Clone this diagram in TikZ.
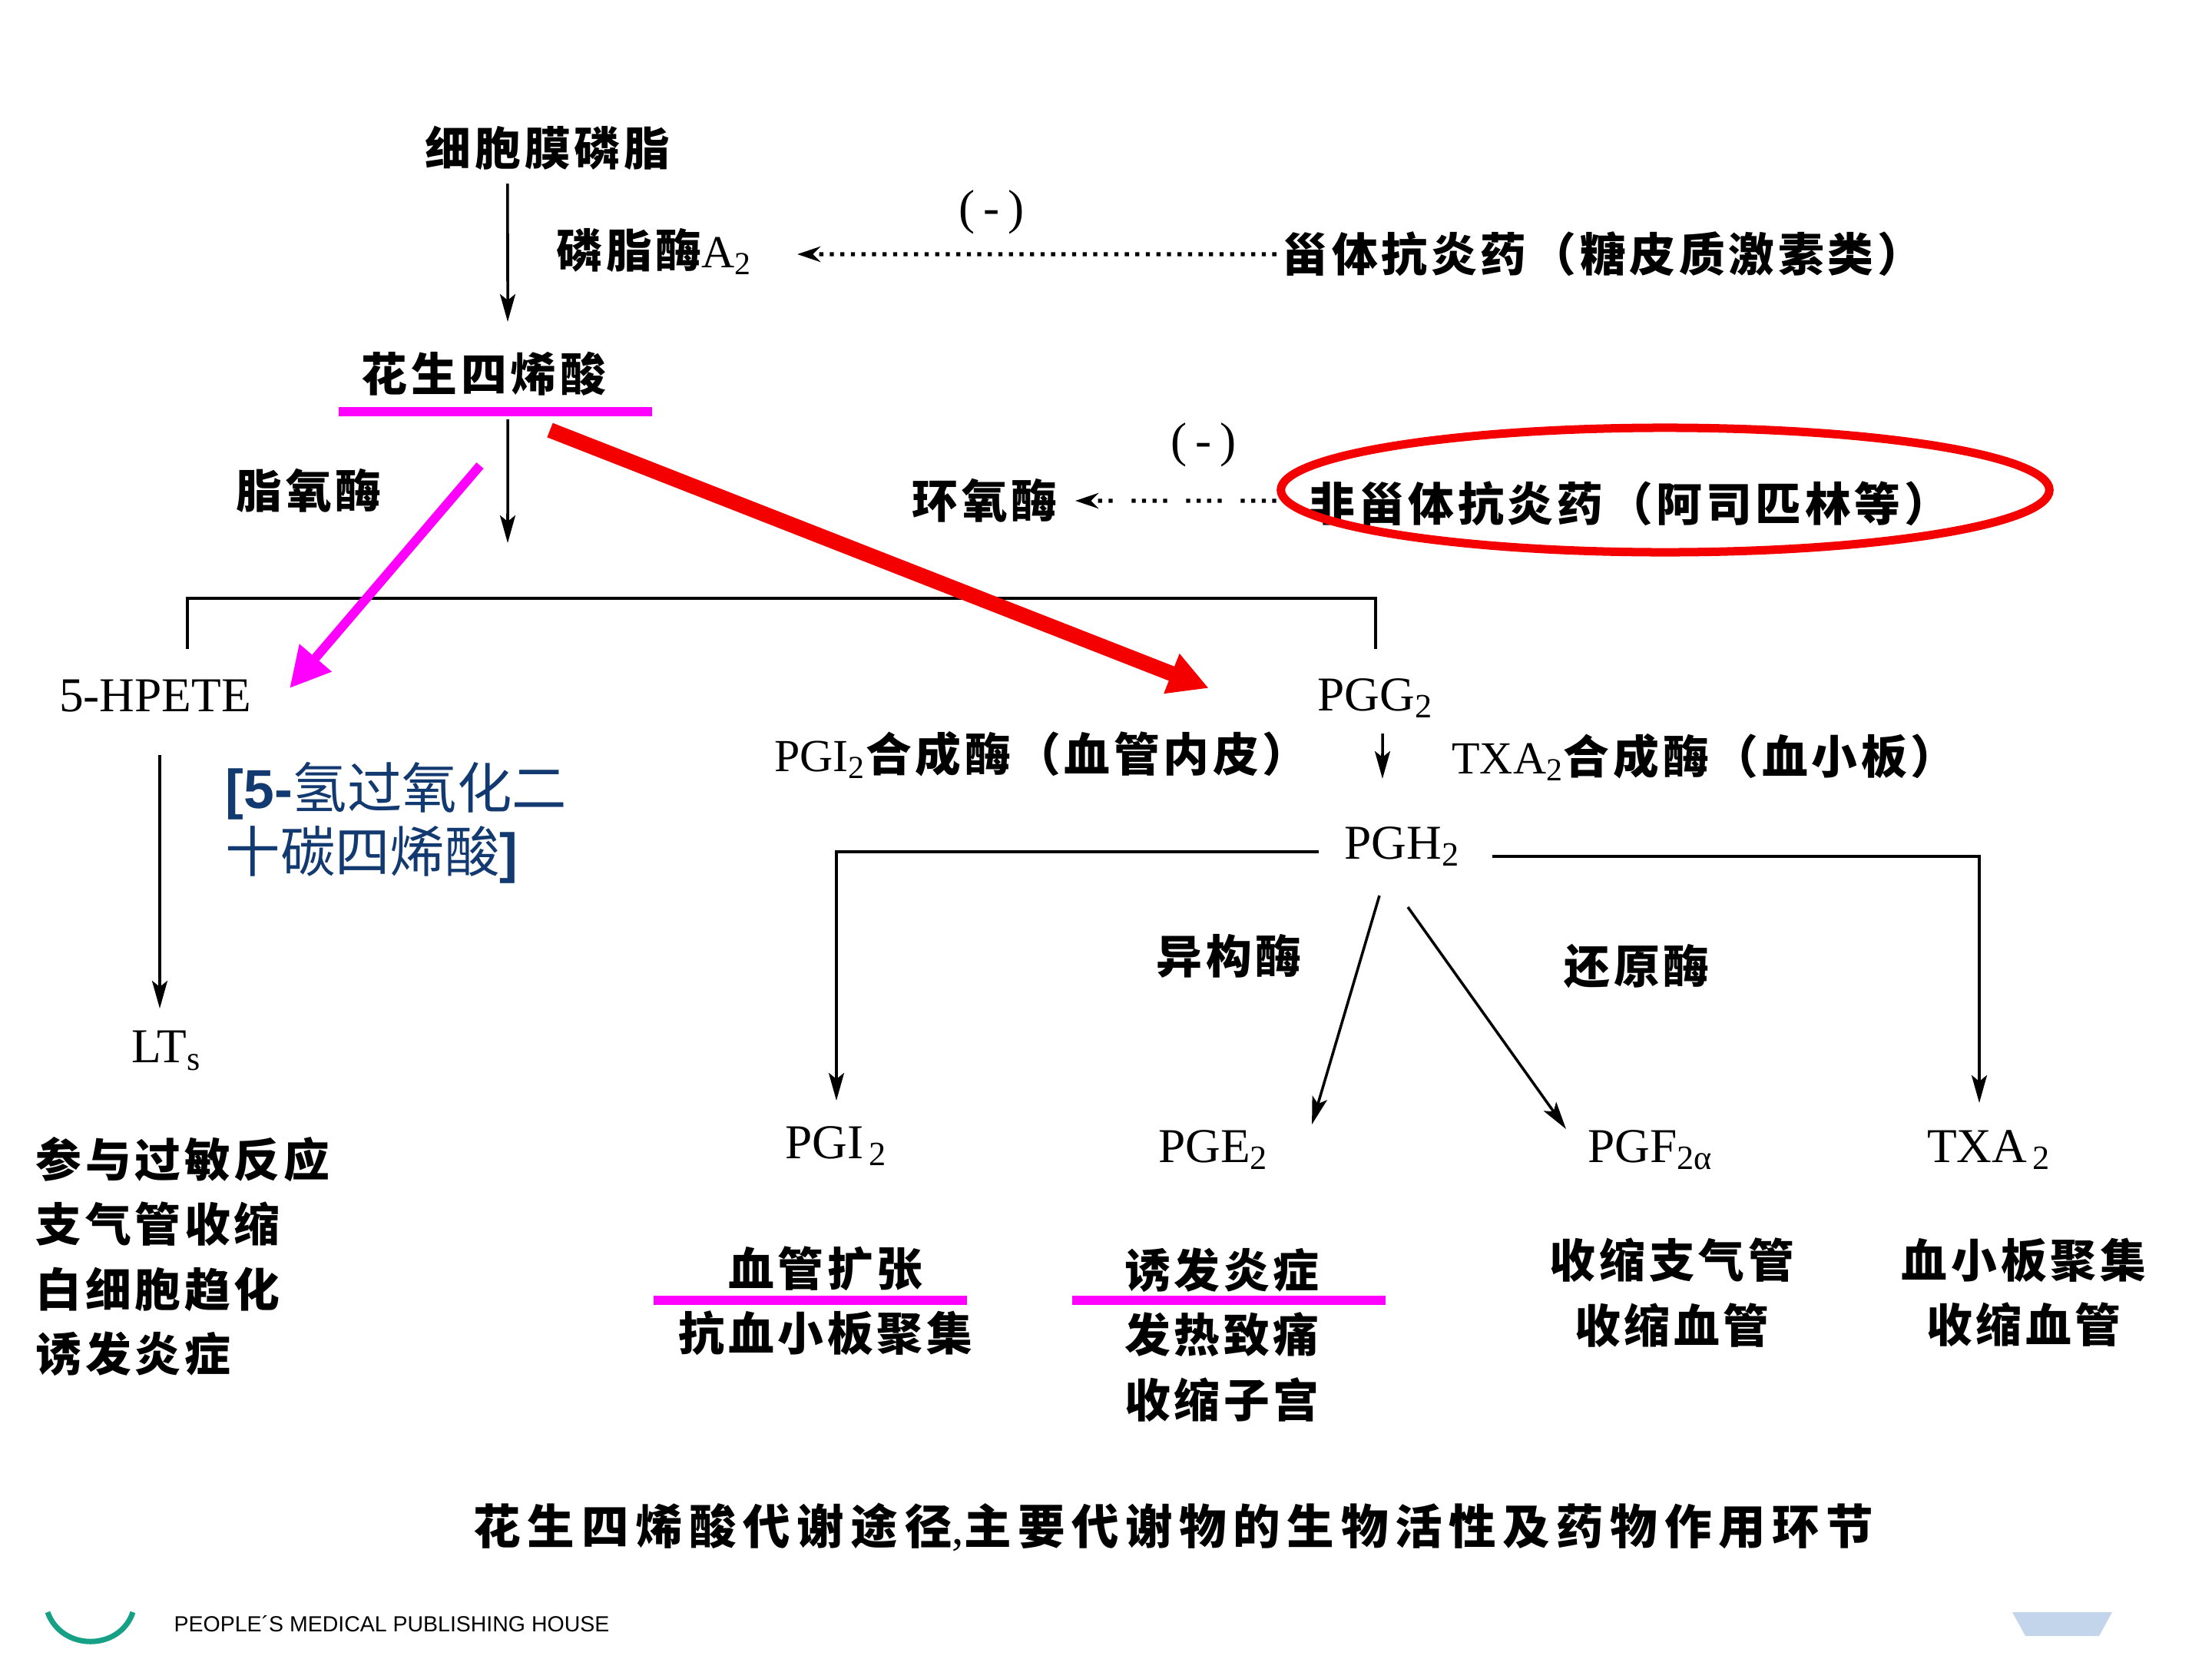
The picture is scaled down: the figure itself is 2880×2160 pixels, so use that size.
\documentclass[tikz,border=0pt]{standalone}
\usepackage{fontspec}
\setmainfont{Liberation Serif}
\newfontfamily\cjk[LetterSpace=8]{Noto Sans CJK SC}
\newfontfamily\cjkcap[LetterSpace=14]{Noto Sans CJK SC}
\newfontfamily\cjknote{Noto Sans CJK SC}
\newfontfamily\pubsans{Liberation Sans}
\usetikzlibrary{shapes.geometric, arrows.meta}
\definecolor{markpink}{RGB}{255,0,255}
\definecolor{markred}{RGB}{245,0,0}
\definecolor{noteblue}{RGB}{18,58,112}
\definecolor{logoteal}{RGB}{22,160,133}
\definecolor{logoblue}{RGB}{195,213,235}
\newcommand{\sern}[1]{{\rmfamily\mdseries #1}}
\tikzstyle{arrow} = [line width=1pt,-{Stealth[length=0.36cm,width=0.2cm,inset=0.08cm]}]
\tikzstyle{branch} = [line width=1.3pt]
\tikzstyle{inhibit} = [line width=1.5pt,dash pattern=on 1.5pt off 2.4pt,-{Stealth[length=0.3cm,width=0.2cm]}]
\tikzstyle{hilite} = [line width=0.12cm,draw=markpink]
\tikzstyle{bigarrow} = [-{Triangle[length=0.52cm,width=0.52cm]}]
\tikzstyle{word} = [inner sep=0pt,font=\fontsize{17}{24}\selectfont\cjk\bfseries]
\tikzstyle{chem} = [inner sep=0pt,font=\fontsize{18}{22}\selectfont\rmfamily]
\tikzstyle{note} = [inner sep=0pt,text=noteblue,align=left,font=\fontsize{20.3}{23.6}\selectfont\cjknote]

\begin{document}
\begin{tikzpicture}[x=0.01cm,y=-0.01cm]
    \useasboundingbox (0,0) rectangle (2880,2160);

    % phospholipase step
    \node[word] (pl) at (713,193) {细胞膜磷脂};
    \node[word] (pla2) at (852,327) {磷脂酶\sern{A\textsubscript{2}}};
    \node[chem] (inh1) at (1291,276) {(\,-\,)};
    \node[word] (ster) at (2087,331) {甾体抗炎药（糖皮质激素类）};
    \node[word] (aa) at (630,487) {花生四烯酸};
    \draw[arrow] ([xshift=-0.52cm,yshift=-0.46cm]pl.center) -- ([xshift=0.31cm,yshift=0.68cm]aa.center);
    \draw[inhibit] ([xshift=-4.25cm]ster.center) -- ([xshift=1.86cm,yshift=-0.04cm]pla2.center);
    \draw[hilite] (441,536) -- (849,536);

    % cyclooxygenase step
    \node[word] (lox) at (402,639) {脂氧酶};
    \node[word] (cox) at (1282,652) {环氧酶};
    \node[chem] (inh2) at (1567,579) {(\,-\,)};
    \node[word] (nsaid) at (2122,656) {非甾体抗炎药（阿司匹林等）};
    \node[draw=markred,line width=0.11cm,ellipse,minimum width=10cm,minimum height=1.62cm] (ring) at (2168,638) {};
    \draw[inhibit,dash pattern=on 1.5pt off 2.4pt on 1.5pt off 2.4pt on 1.5pt off 2.4pt on 1.5pt off 7pt] ([xshift=-4.6cm,yshift=0.04cm]nsaid.center) -- ([xshift=1.18cm]cox.center);
    \coordinate (split) at (661,707);
    \draw[arrow] ([xshift=0.31cm,yshift=-0.59cm]aa.center) -- (split);

    % lipoxygenase and cyclooxygenase branches
    \node[chem] (hpete) at (202,906) {5-HPETE};
    \node[chem] (pgg) at (1791,909) {PGG\textsubscript{2}};
    \draw[branch] ([xshift=0.42cm,yshift=0.61cm]hpete.center) |- ([yshift=1.30cm]pgg.center) -- ([yshift=0.64cm]pgg.center);
    \draw[hilite,bigarrow] ([xshift=-0.05cm,yshift=-1.19cm]aa.center) -- ([xshift=1.75cm,yshift=0.10cm]hpete.center);
    \draw[line width=0.2cm,draw=markred,bigarrow] ([xshift=0.86cm,yshift=-0.73cm]aa.center) -- ([xshift=-2.17cm,yshift=0.13cm]pgg.center);
    \node[note,anchor=west] (hpnote) at (293,1071) {{\pubsans\bfseries [5-}氢过氧化二\\十碳四烯酸{\pubsans\bfseries ]}};

    % synthases
    \node[word] (pgis) at (1356,983) {\sern{PGI\textsubscript{2}}合成酶（血管内皮）};
    \node[word] (txas) at (2219,986) {\sern{TXA\textsubscript{2}}合成酶（血小板）};
    \node[chem] (pgh) at (1826,1102) {PGH\textsubscript{2}};
    \draw[arrow] ([xshift=0.09cm,yshift=-0.46cm]pgg.center) -- ([xshift=-0.26cm,yshift=0.88cm]pgh.center);

    % products of PGH2
    \node[chem] (pgi) at (1089,1492) {PGI\textsubscript{\,2}};
    \node[chem] (pge) at (1580,1497) {PGE\textsubscript{2}};
    \node[chem] (pgf) at (2149,1497) {PGF\textsubscript{2α}};
    \node[chem] (txa) at (2590,1497) {TXA\textsubscript{\,2}};
    \node[word] (iso) at (1600,1245) {异构酶};
    \node[word] (rdx) at (2131,1258) {还原酶};
    \draw[arrow] ([xshift=-1.09cm,yshift=-0.07cm]pgh.center) -| ([yshift=0.59cm]pgi.center);
    \draw[arrow] ([xshift=1.17cm,yshift=-0.13cm]pgh.center) -| ([xshift=-0.13cm,yshift=0.61cm]txa.center);
    \draw[arrow] ([xshift=-0.30cm,yshift=-0.64cm]pgh.center) -- ([xshift=1.28cm,yshift=0.33cm]pge.center);
    \draw[arrow] ([xshift=0.07cm,yshift=-0.79cm]pgh.center) -- ([xshift=-1.10cm,yshift=0.27cm]pgf.center);

    % leukotrienes
    \node[chem] (lts) at (217,1368) {LT\textsubscript{s}};
    \draw[arrow] ([xshift=0.06cm,yshift=-0.77cm]hpete.center) -- ([xshift=-0.09cm,yshift=0.55cm]lts.center);
    \node[word,anchor=west,align=left] (ltfx) at (46,1636) {参与过敏反应\\支气管收缩\\白细胞趋化\\诱发炎症};

    % effects
    \node[word,align=center] (pgifx) at (1075,1694) {血管扩张\\抗血小板聚集};
    \node[word,align=center] (pgefx) at (1591,1738) {诱发炎症\\发热致痛\\收缩子宫};
    \node[word,align=center] (pgffx) at (2177,1683) {收缩支气管\\收缩血管};
    \node[word,align=center] (txafx) at (2635,1683) {血小板聚集\\收缩血管};
    \draw[hilite] (851,1693) -- (1259,1693);
    \draw[hilite] (1396,1693) -- (1804,1693);

    % caption and footer
    \node[inner sep=0pt,font=\fontsize{17.5}{21}\selectfont\cjkcap\bfseries] (cap) at (1528,1988) {花生四烯酸代谢途径\sern{,}主要代谢物的生物活性及药物作用环节};
    \node[inner sep=0pt,anchor=west,font=\fontsize{8.1}{9}\selectfont\pubsans] (pub) at (226,2114) {PEOPLE´S MEDICAL PUBLISHING HOUSE};
    \draw[logoteal,line width=0.07cm] (62,2099) .. controls (80,2150) and (156,2150) .. (173,2099);
    \fill[logoblue] (2620,2099) -- (2750,2099) -- (2733,2130) -- (2637,2130) -- cycle;
\end{tikzpicture}
\end{document}
